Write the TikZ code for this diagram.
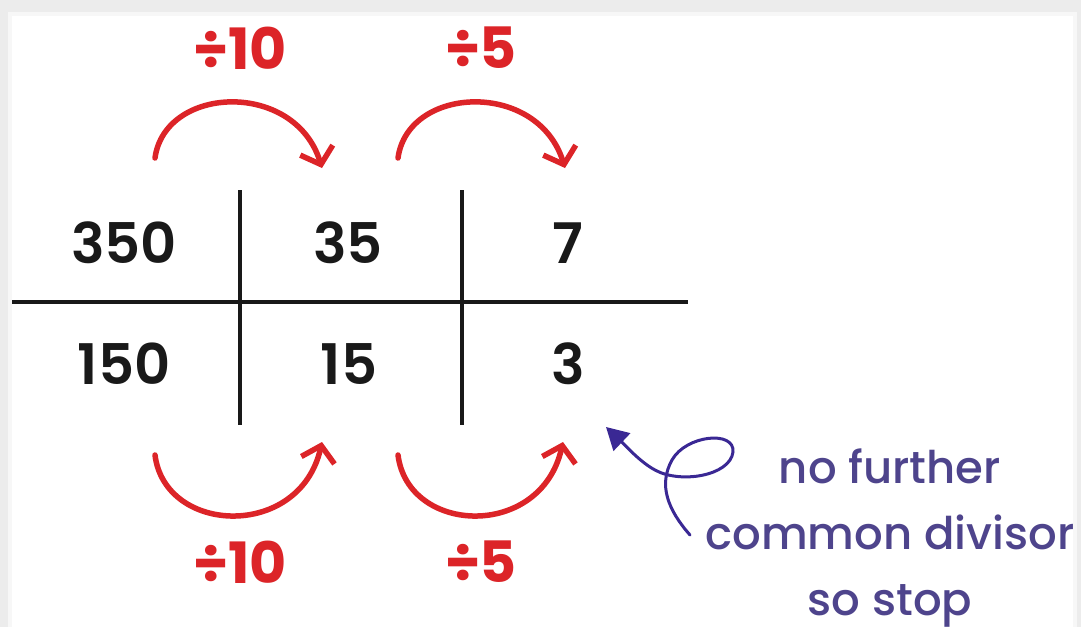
\documentclass[tikz,border=0pt]{standalone}
\usepackage{fontspec}
\setmainfont{Poppins}[UprightFont=* Medium, BoldFont=* SemiBold]
\newfontfamily\boldred{Poppins}[UprightFont=* Bold]
\usetikzlibrary{arrows.meta}
\definecolor{myred}{RGB}{220,36,40}
\definecolor{mytext}{RGB}{78,68,140}
\definecolor{myblue}{RGB}{72,50,185}
\definecolor{bgray}{RGB}{236,236,236}
\tikzset{
  num/.style={font=\bfseries\fontsize{56}{60}\selectfont, text=black!90, inner sep=0pt},
  divlbl/.style={font=\boldred\fontsize{57}{60}\selectfont, text=myred, inner sep=0pt},
  rule/.style={line width=4.5pt, black!90},
  redarrow/.style={line width=5.5pt, myred, line cap=round, -{Straight Barb[length=15pt,width=34pt,line width=5.5pt]}},
  bluearrow/.style={line width=3pt, myblue!80!black, line cap=round, -{Triangle[length=22pt,width=24pt]}},
  note/.style={font=\fontsize{45}{66}\selectfont, text=mytext, align=center, inner sep=0pt}
}
\begin{document}
\begin{tikzpicture}[x=1pt,y=-1pt]
\useasboundingbox (0,0) rectangle (1081,627);
\fill[bgray] (0,0) rectangle (1081,627);
\fill[white!60!bgray] (8,12) rectangle (1077,627);
\fill[white] (12,16) rectangle (1073,627);
% grid
\draw[rule] (12,302) -- (688,302);
\draw[rule] (240,190) -- (240,425);
\draw[rule] (462,190) -- (462,425);
% numbers
\node[num] (a1) at (124,243) {350};
\node[num] (b1) at (348,243) {35};
\node[num] (c1) at (568,243) {7};
\node[num] (a2) at (124,364) {150};
\node[num] (b2) at (349,364) {15};
\node[num] (c2) at (568,364) {3};
% labels
\node[divlbl] (t1) at (240,48) {÷10};
\node[divlbl] (t2) at (481,48) {÷5};
\node[divlbl] (u1) at (240,562) {÷10};
\node[divlbl] (u2) at (481,562) {÷5};
% arrow anchors
\coordinate (ts1) at (155,158); \coordinate (te1) at (322,168);
\coordinate (ts2) at (398,158); \coordinate (te2) at (565,168);
\coordinate (bs1) at (155,455); \coordinate (be1) at (322,442);
\coordinate (bs2) at (398,455); \coordinate (be2) at (563,442);
\draw[redarrow] (ts1) .. controls (165,85) and (295,80) .. (te1);
\draw[redarrow] (ts2) .. controls (408,85) and (538,80) .. (te2);
\draw[redarrow] (bs1) .. controls (165,535) and (300,540) .. (be1);
\draw[redarrow] (bs2) .. controls (408,535) and (541,540) .. (be2);
% note
\node[note] (note) at (890,538) {no further\\common divisor\\so stop};
\coordinate (tail) at (690,535);
\coordinate (tip) at (606,427);
\draw[bluearrow] (tail) .. controls (668,510) and (658,485) .. (672,460)
  .. controls (686,435) and (735,430) .. (733,452)
  .. controls (730,476) and (680,484) .. (655,470)
  .. controls (640,462) and (625,445) .. (tip);
\end{tikzpicture}
\end{document}
